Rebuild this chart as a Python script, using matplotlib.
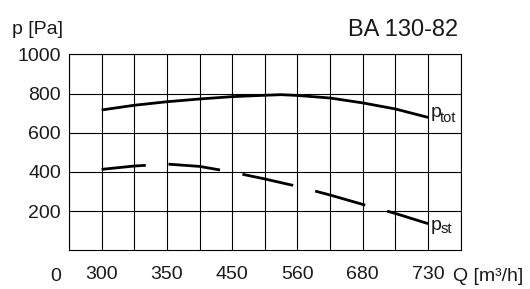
import matplotlib
matplotlib.use("Agg")
import matplotlib.pyplot as plt
import numpy as np

plt.rcParams['font.family'] = ['Liberation Sans', 'DejaVu Sans']
plt.rcParams['lines.scale_dashes'] = False

# grid positions (evenly spaced chart columns) and their flow labels
tick_pos = [1, 3, 5, 7, 9, 11]
tick_labels = ['300', '350', '450', '560', '680', '730']
y_ticks = [200, 400, 600, 800, 1000]

# total pressure curve (x in grid columns, y in Pa)
ptot_x = [1, 2, 3, 4, 5, 6, 6.5, 7, 8, 9, 10, 11]
ptot_y = [716, 740, 758, 772, 784, 791, 794, 790, 777, 752, 721, 678]

# static pressure curve
pst_x = [1, 2, 3, 4, 5, 6, 7, 8, 9, 10, 11]
pst_y = [413, 430, 440, 428, 399, 364, 326, 282, 234, 188, 136]

W, H = 530, 289
fig = plt.figure(figsize=(W / 100, H / 100), dpi=100)
L, R, T, B = 69, 460.7, 54.3, 250.3
ax = fig.add_axes([L / W, 1 - B / H, (R - L) / W, (B - T) / H])

ink = '#1a1a1a'
ax.set_xlim(0, 12)
ax.set_ylim(0, 1000)
ax.set_xticks(np.arange(13), minor=True)
ax.set_xticks(tick_pos)
ax.set_xticklabels(tick_labels)
ax.set_yticks(y_ticks)
ax.set_yticklabels([str(v) for v in y_ticks])
ax.tick_params(which='both', length=0)
ax.tick_params(axis='x', pad=11, labelsize=14, labelcolor=ink)
ax.tick_params(axis='y', pad=5.8, labelsize=14, labelcolor=ink)
ax.grid(True, which='both', axis='x', color='black', lw=0.8)
ax.grid(True, which='major', axis='y', color='black', lw=0.8)
for s in ax.spines.values():
    s.set_linewidth(0.8)
    s.set_color('black')

ax.plot(ptot_x, ptot_y, color='black', lw=2.0, solid_capstyle='butt')
ax.plot(pst_x, pst_y, color='black', lw=2.0, dash_capstyle='butt',
        linestyle=(5.5, (37.4, 16.4)))

def px(x, y):
    return x / W, 1 - y / H

fig.text(*px(458.5, 36), 'BA 130-82', fontsize=17, ha='right', va='baseline', color=ink)
fig.text(*px(11.5, 34.5), 'p [Pa]', fontsize=14, ha='left', va='baseline', color=ink)
fig.text(*px(55.8, 280.7), '0', fontsize=14, ha='center', va='baseline', color=ink)
fig.text(*px(453, 280.7), 'Q [m³/h]', fontsize=14, ha='left', va='baseline', color=ink)

fig.text(*px(430.5, 117), 'p', fontsize=14, ha='left', va='baseline', color=ink)
fig.text(*px(440, 122.3), 'tot', fontsize=10.5, ha='left', va='baseline', color=ink)
fig.text(*px(430.5, 229.6), 'p', fontsize=14, ha='left', va='baseline', color=ink)
fig.text(*px(441, 233.3), 'st', fontsize=10.5, ha='left', va='baseline', color=ink)

fig.savefig('out.png', dpi=100)
